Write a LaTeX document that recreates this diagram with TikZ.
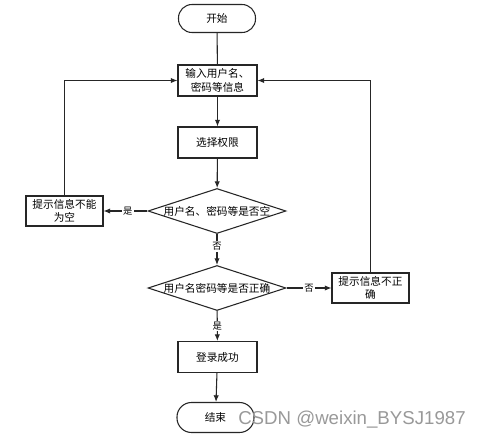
\documentclass[tikz,border=0pt]{standalone}
\usepackage{fontspec}
\newfontfamily\cjk{Noto Sans CJK SC}
\usetikzlibrary{shapes.geometric,arrows.meta}
\begin{document}
\begin{tikzpicture}[x=0.75pt,y=-0.75pt,
  font=\cjk\fontsize{8}{10}\selectfont,
  line/.style={draw=black!85,line width=0.8pt},
  arr/.style={line,-{Latex[length=5pt,width=4pt]}},
  proc/.style={draw=black!85,line width=0.8pt,rectangle,minimum width=79*0.75pt,minimum height=31*0.75pt,align=center,inner sep=1pt},
  term/.style={draw=black!85,line width=0.8pt,rectangle,rounded corners=13.5*0.75pt,minimum width=77*0.75pt,minimum height=28*0.75pt},
  dec/.style={draw=black!85,line width=0.8pt,diamond,aspect=3.07,minimum width=138*0.75pt,minimum height=45*0.75pt,inner sep=0pt},
  lbl/.style={fill=white,inner sep=1pt,font=\cjk\fontsize{7}{8}\selectfont}]
\useasboundingbox[fill=white] (0,0) rectangle (480,440);
\node[term] (start) at (217,18.5) {开始};
\node[proc] (input) at (217.5,80.5) {输入用户名、\\密码等信息};
\node[proc] (perm) at (217.5,142.5) {选择权限};
\node[dec] (d1) at (217,211) {用户名、密码等是否空};
\node[proc,minimum width=77*0.75pt,minimum height=30*0.75pt] (empty) at (64.5,211) {提示信息不能\\为空};
\node[dec] (d2) at (217,288) {用户名密码等是否正确};
\node[proc,minimum width=77*0.75pt,minimum height=30*0.75pt] (wrong) at (370.5,288) {提示信息不正\\确};
\node[proc] (ok) at (217.5,357) {登录成功};
\node[term,minimum height=30*0.75pt,rounded corners=14.5*0.75pt] (end) at (215.5,417.5) {结束};
\coordinate (lc) at (empty.north |- input.west);
\coordinate (rc) at (wrong.north |- input.east);
\draw[line] (start) -- (input);
\draw[arr] (input) -- (perm);
\draw[arr] (perm) -- (d1);
\draw[arr] (d1) -- node[lbl,pos=0.45]{是} (empty);
\draw[arr] (d1) -- node[lbl,pos=0.4]{否} (d2);
\draw[arr] (d2) -- node[lbl,pos=0.5]{否} (wrong);
\draw[arr] (d2) -- node[lbl,pos=0.5]{是} (ok);
\draw[arr] (ok) -- (end);
\draw[arr] (empty.north) -- (lc) -- (input.west);
\draw[arr] (wrong.north) -- (rc) -- (input.east);
\node[text=black!40,font=\fontspec{Liberation Sans}\fontsize{14}{16}\selectfont,anchor=west,inner sep=0pt] (wm) at (238,420) {CSDN @weixin\_BYSJ1987};
\end{tikzpicture}
\end{document}
